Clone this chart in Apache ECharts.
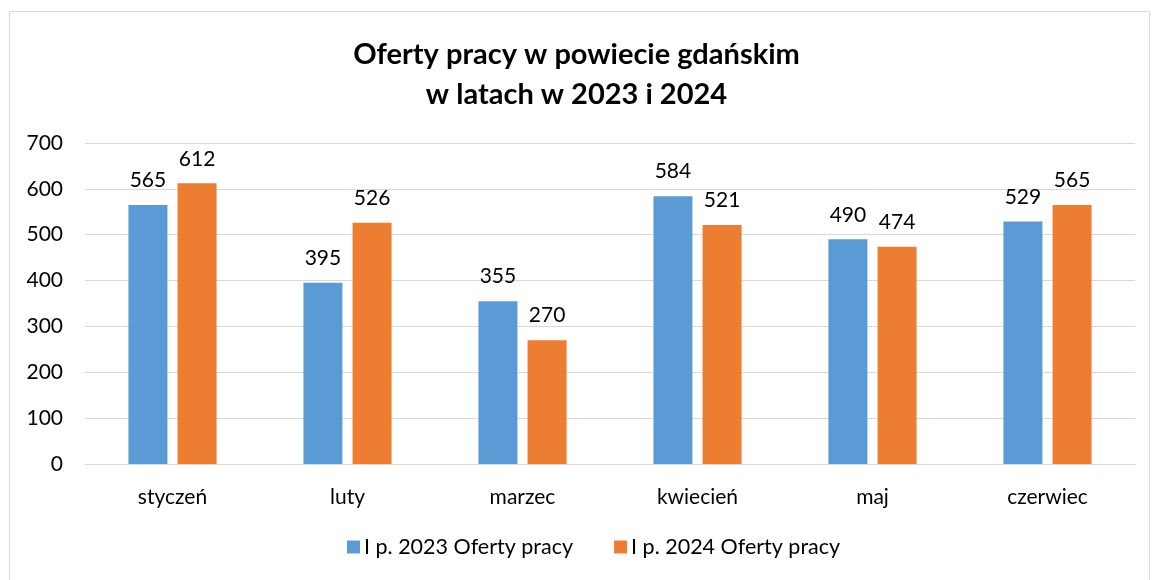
<!DOCTYPE html>
<html>
<head>
<meta charset="utf-8">
<script src="https://cdn.jsdelivr.net/npm/echarts@6/dist/echarts.min.js"></script>
<style>
  html, body { margin: 0; padding: 0; background: #fff; }
  #chart { width: 1153px; height: 580px; }
</style>
</head>
<body>
<div id="chart"></div>
<script>
const months = ["styczeń", "luty", "marzec", "kwiecień", "maj", "czerwiec"];
const offers2023 = [565, 395, 355, 584, 490, 529];
const offers2024 = [612, 526, 270, 521, 474, 565];
const seriesNames = ["I p. 2023 Oferty pracy", "I p. 2024 Oferty pracy"];

const font = "Lato, 'Open Sans', sans-serif";
const labelStyle = {
  show: true,
  position: "top",
  distance: 14,
  color: "#000",
  fontSize: 21,
  fontFamily: font,
};

let chartDom = document.getElementById("chart");
let myChart = echarts.init(chartDom);
let option = {
  animation: false,
  color: ["#5B9BD5", "#ED7D31"],
  graphic: [
    {
      type: "rect",
      shape: { x: 9.5, y: 11.5, width: 1140, height: 580 },
      style: { fill: "none", stroke: "#d9d9d9", lineWidth: 1 },
      silent: true,
    },
  ],
  title: {
    text: "Oferty pracy w powiecie gdańskim\nw latach w 2023 i 2024",
    left: "center",
    top: 30,
    textStyle: {
      fontFamily: font,
      fontWeight: "bold",
      fontSize: 29,
      lineHeight: 40,
      color: "#000",
    },
  },
  legend: {
    data: seriesNames,
    bottom: 17,
    left: 342,
    itemWidth: 13,
    itemHeight: 13,
    itemGap: 41,
    icon: "rect",
    textStyle: { fontFamily: font, fontSize: 21.5, color: "#000", padding: [0, 0, 0, -1] },
  },
  grid: {
    left: 85,
    right: 18,
    top: 143,
    bottom: 116,
  },
  xAxis: {
    type: "category",
    data: months,
    axisLine: { lineStyle: { color: "#d9d9d9", width: 1 } },
    axisTick: { show: false },
    axisLabel: {
      color: "#000",
      fontFamily: font,
      fontSize: 21,
      margin: 23,
    },
  },
  yAxis: {
    type: "value",
    min: 0,
    max: 700,
    interval: 100,
    axisLine: { show: false },
    axisTick: { show: false },
    splitLine: { lineStyle: { color: "#d9d9d9", width: 1 } },
    axisLabel: {
      color: "#000",
      fontFamily: font,
      fontSize: 21,
      margin: 22,
    },
  },
  series: [
    {
      name: seriesNames[0],
      type: "bar",
      data: offers2023,
      barWidth: 39,
      barGap: "26%",
      label: labelStyle,
    },
    {
      name: seriesNames[1],
      type: "bar",
      data: offers2024,
      barWidth: 39,
      label: labelStyle,
    },
  ],
};
option && myChart.setOption(option);
</script>
</body>
</html>
